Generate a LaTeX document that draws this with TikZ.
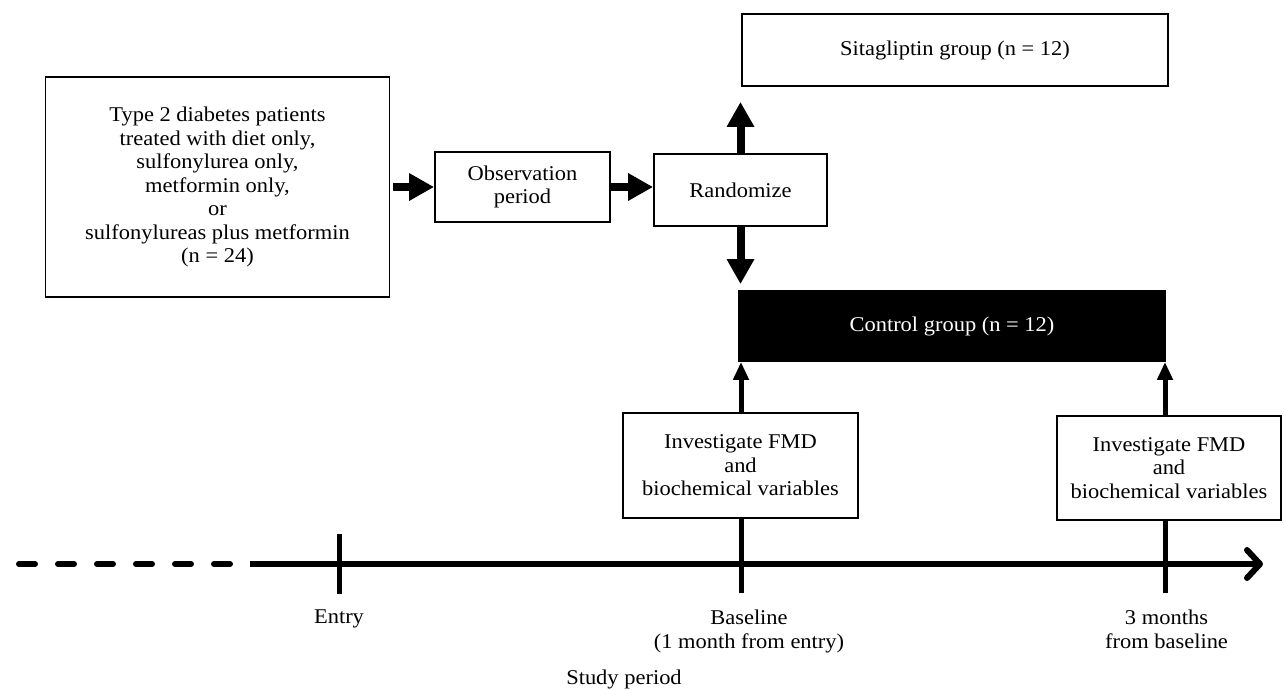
\documentclass[tikz,border=0pt]{standalone}
\usepackage{fontspec}
\setmainfont[FakeStretch=1.07]{Liberation Serif}
\usetikzlibrary{arrows.meta}
\begin{document}
\begin{tikzpicture}[x=1pt,y=-1pt,
  box/.style={draw,line width=1.8pt,align=center,inner sep=0pt,fill=white,
    font=\fontsize{21}{23.5}\selectfont},
  bigarrow/.style={line width=8pt,-{Triangle[length=25pt,width=26pt]}},
  smallarrow/.style={line width=5pt,-{Triangle[length=18pt,width=15pt]}},
  axisline/.style={line width=6pt},
  tickline/.style={line width=5pt},
  lbl/.style={align=center,inner sep=0pt,font=\fontsize{21}{24}\selectfont,anchor=north}]
\useasboundingbox[fill=white] (0,0) rectangle (1286,689);

% boxes
\node[box,minimum width=344pt,minimum height=220pt] (pat) at (217.5,187)
  {Type 2 diabetes patients\\treated with diet only,\\sulfonylurea only,\\metformin only,\\or\\sulfonylureas plus metformin\\(n = 24)};
\node[box,minimum width=175pt,minimum height=70pt] (obs) at (522.5,187) {Observation\\period};
\node[box,minimum width=173pt,minimum height=72pt] (rand) at (740.5,190) {Randomize};
\node[box,minimum width=426pt,minimum height=72pt] (sit) at (955,50) {Sitagliptin group (n = 12)};
\node[box,fill=black,text=white,minimum width=426pt,minimum height=70pt] (ctrl) at (952,326) {Control group (n = 12)};
\node[box,minimum width=235pt,minimum height=105pt] (inv1) at (740.5,465.5) {Investigate FMD\\and\\biochemical variables};
\node[box,minimum width=224pt,minimum height=104pt] (inv2) at (1169,468) {Investigate FMD\\and\\biochemical variables};

% flow arrows
\draw[bigarrow,shorten <=3pt] (pat.east |- obs.west) -- (obs.west);
\draw[bigarrow] (obs.east) -- (obs.east -| rand.west);
\draw[bigarrow,shorten >=15pt] (rand.north) -- (rand.north |- sit.south);
\draw[bigarrow,shorten >=6pt] (rand.south) -- (rand.south |- ctrl.north);

% timeline coordinates
\coordinate (tA) at (19,564);
\coordinate (tS) at (250,564);
\coordinate (tE) at (1263,564);
\coordinate (entry) at (339,564);
\coordinate (base) at (741,564);
\coordinate (three) at (1165,564);

\draw[smallarrow] (base |- inv1.north) -- (base |- ctrl.south);
\draw[smallarrow] (three |- inv2.north) -- (three |- ctrl.south);

% timeline
\draw[axisline,line cap=round,dash pattern=on 16pt off 23pt] (tA) -- (tS);
\draw[axisline,-{Straight Barb[length=13pt,width=28pt,round]}] (tS) -- (tE);
\draw[tickline] ([yshift=-30pt]entry) -- ([yshift=30pt]entry);
\draw[tickline] (base |- inv1.south) -- ([yshift=-29pt]base);
\draw[tickline] (three |- inv2.south) -- ([yshift=-29pt]three);

% labels
\node[lbl] (lentry) at (339,610) {Entry};
\node[lbl] (lbase) at (749,610) {Baseline\\(1 month from entry)};
\node[lbl] (lthree) at (1166.5,610) {3 months\\from baseline};
\node[lbl] (lstudy) at (624,670) {Study period};
\end{tikzpicture}
\end{document}
